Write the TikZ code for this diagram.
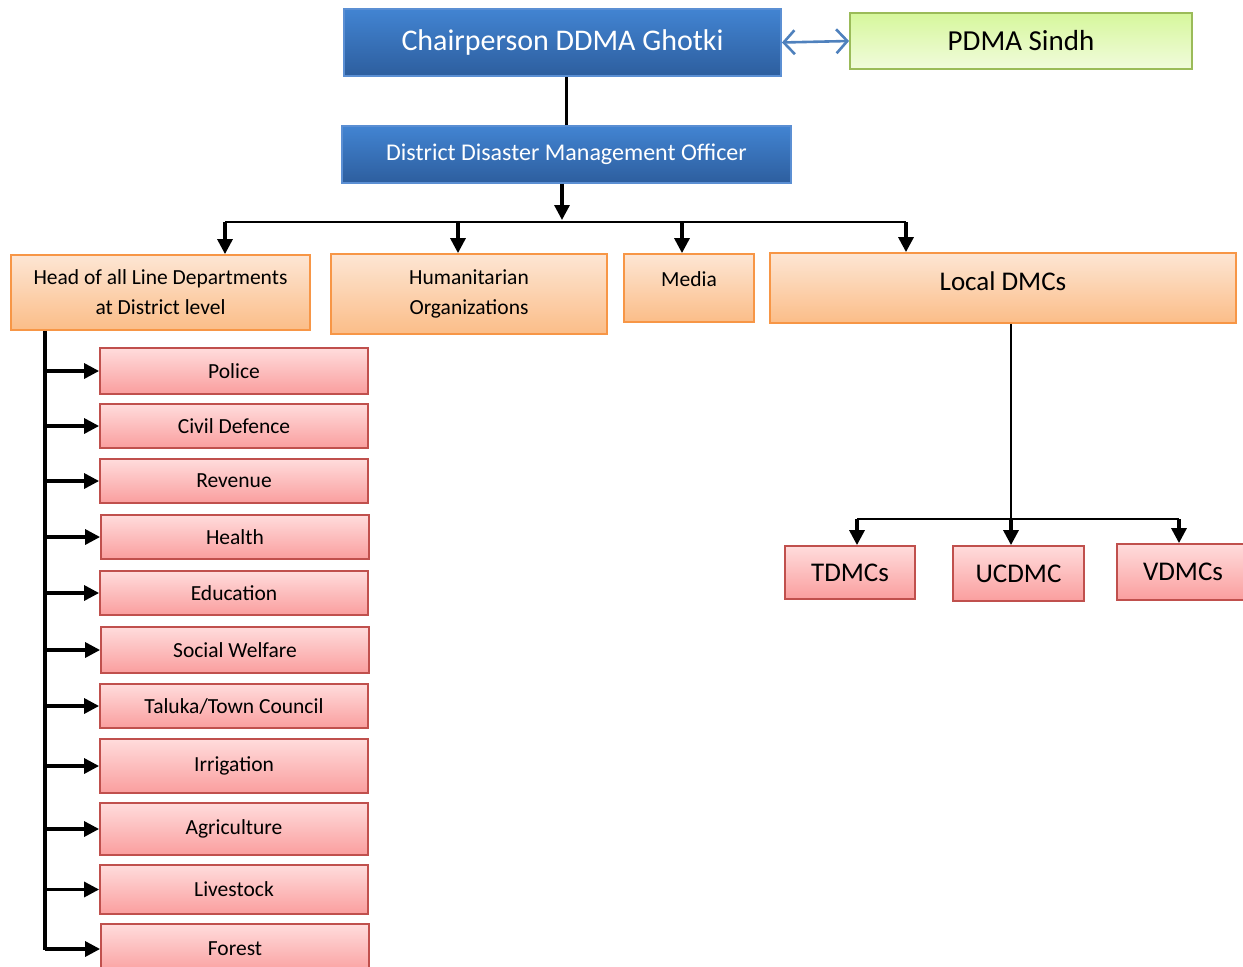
\documentclass[tikz,border=0pt]{standalone}
\usepackage{fontspec}
\setmainfont{Carlito}
\usetikzlibrary{arrows.meta,calc}

\definecolor{bluetop}{HTML}{4284D2}
\definecolor{bluebot}{HTML}{2D5E9E}
\definecolor{bluerule}{HTML}{5B8FD3}
\definecolor{greentop}{HTML}{D6F79C}
\definecolor{greenbot}{HTML}{F1FBDC}
\definecolor{greenrule}{HTML}{9BBB59}
\definecolor{orangetop}{HTML}{FDE6D4}
\definecolor{orangebot}{HTML}{FBBD88}
\definecolor{orangerule}{HTML}{F79646}
\definecolor{pinktop}{HTML}{FFDCDC}
\definecolor{pinkbot}{HTML}{FA9E9E}
\definecolor{pinkrule}{HTML}{C0504D}
\definecolor{linkblue}{HTML}{4F81BD}

\begin{document}
\begin{tikzpicture}[x=1pt, y=-1pt,
  box/.style={draw, line width=1.8pt, align=center, inner sep=2pt},
  bluebox/.style={box, draw=bluerule, top color=bluetop, bottom color=bluebot,
    text=white},
  greenbox/.style={box, draw=greenrule, top color=greentop, bottom color=greenbot},
  orangebox/.style={box, draw=orangerule, top color=orangetop, bottom color=orangebot,
    font=\fontsize{21.5}{30}\selectfont},
  pinkbox/.style={box, draw=pinkrule, top color=pinktop, bottom color=pinkbot,
    minimum width=268pt, font=\fontsize{21.5}{26}\selectfont},
  ar/.style={-{Triangle[length=15pt, width=15pt]}, line width=3.2pt},
  ln/.style={line width=3.2pt},
  link/.style={{Straight Barb[length=11pt, width=24pt]}-{Straight Barb[length=11pt, width=24pt]},
    line width=2.6pt, draw=linkblue}
]
  \clip (0,0) rectangle (1243,967);

  % top of the chart
  \node[bluebox, minimum width=437pt, minimum height=67pt,
    font=\fontsize{30}{36}\selectfont] (chair) at (562.5,42.5)
    {Chairperson DDMA Ghotki};
  \node[greenbox, minimum width=342pt, minimum height=56pt,
    font=\fontsize{29}{34}\selectfont] (pdma) at (1021,41) {PDMA Sindh};
  \draw[link] (chair.east) -- (pdma.west);
  \node[bluebox, minimum width=449pt, minimum height=57pt,
    font=\fontsize{24}{28}\selectfont] (ddmo) at (566.5,154.5)
    {District Disaster Management Officer};
  \draw[ln] (ddmo.north) -- (ddmo.north |- chair.south);

  % second row
  \node[orangebox, minimum width=299pt, minimum height=75pt] (head) at (160.5,292.5)
    {Head of all Line Departments\\at District level};
  \node[orangebox, minimum width=276pt, minimum height=80pt] (human) at (469,294)
    {Humanitarian\\Organizations};
  \node[orangebox, minimum width=130pt, minimum height=68pt, text depth=18pt]
    (media) at (689,288) {Media};
  \node[orangebox, minimum width=466pt, minimum height=70pt, text depth=14pt,
    font=\fontsize{27}{32}\selectfont] (local) at (1003,288) {Local DMCs};

  \coordinate (bus) at (562,222);
  \coordinate (tohead) at (225,222);
  \coordinate (tohuman) at (458,222);
  \coordinate (tomedia) at (682,222);
  \coordinate (tolocal) at (906,222);
  \draw[ar] (ddmo.south -| bus) -- ($(bus)+(0,-2)$);
  \draw[line width=2.4pt] (tohead) -- (tolocal);
  \draw[ar] (tohead) -- (tohead |- head.north);
  \draw[ar] (tohuman) -- (tohuman |- human.north);
  \draw[ar] (tomedia) -- (tomedia |- media.north);
  \draw[ar] (tolocal) -- (tolocal |- local.north);

  % local committees
  \node[pinkbox, minimum width=130pt, minimum height=53pt,
    font=\fontsize{27}{32}\selectfont] (tdmc) at (850,572.5) {TDMCs};
  \node[pinkbox, minimum width=131pt, minimum height=55pt,
    font=\fontsize{27}{32}\selectfont] (ucdmc) at (1018.5,573.5) {UCDMC};
  \node[pinkbox, minimum width=132pt, minimum height=56pt,
    font=\fontsize{27}{32}\selectfont] (vdmc) at (1183,572) {VDMCs};
  \coordinate (split) at (1011,519);
  \coordinate (totdmc) at (857,519);
  \coordinate (tovdmc) at (1179,519);
  \draw[line width=2.4pt] (local.south -| split) -- (split);
  \draw[line width=2.4pt] (totdmc) -- (tovdmc);
  \draw[ar] (totdmc) -- (totdmc |- tdmc.north);
  \draw[ar] (split) -- (split |- ucdmc.north);
  \draw[ar] (tovdmc) -- (tovdmc |- vdmc.north);

  % line departments
  \node[pinkbox, minimum height=46pt] (police) at (234,371) {Police};
  \node[pinkbox, minimum height=44pt] (civil) at (234,426) {Civil Defence};
  \node[pinkbox, minimum height=44pt] (revenue) at (234,481) {Revenue};
  \node[pinkbox, minimum height=44pt] (health) at (235,537) {Health};
  \node[pinkbox, minimum height=44pt] (educ) at (234,593) {Education};
  \node[pinkbox, minimum height=46pt] (social) at (235,650) {Social Welfare};
  \node[pinkbox, minimum height=44pt] (taluka) at (234,706) {Taluka/Town Council};
  \node[pinkbox, minimum height=54pt] (irrig) at (234,766) {Irrigation};
  \node[pinkbox, minimum height=52pt] (agri) at (234,829) {Agriculture};
  \node[pinkbox, minimum height=49pt] (live) at (234,889.5) {Livestock};
  \node[pinkbox, minimum height=50pt] (forest) at (235,949) {Forest};

  \coordinate (trunk) at (45,950);
  \draw[ln] (head.south -| trunk) -- (trunk);
  \draw[ar] (police.west -| trunk) -- (police.west);
  \draw[ar] (civil.west -| trunk) -- (civil.west);
  \draw[ar] (revenue.west -| trunk) -- (revenue.west);
  \draw[ar] (health.west -| trunk) -- (health.west);
  \draw[ar] (educ.west -| trunk) -- (educ.west);
  \draw[ar] (social.west -| trunk) -- (social.west);
  \draw[ar] (taluka.west -| trunk) -- (taluka.west);
  \draw[ar] (irrig.west -| trunk) -- (irrig.west);
  \draw[ar] (agri.west -| trunk) -- (agri.west);
  \draw[ar] (live.west -| trunk) -- (live.west);
  \draw[ar] (forest.west -| trunk) -- (forest.west);
\end{tikzpicture}
\end{document}
